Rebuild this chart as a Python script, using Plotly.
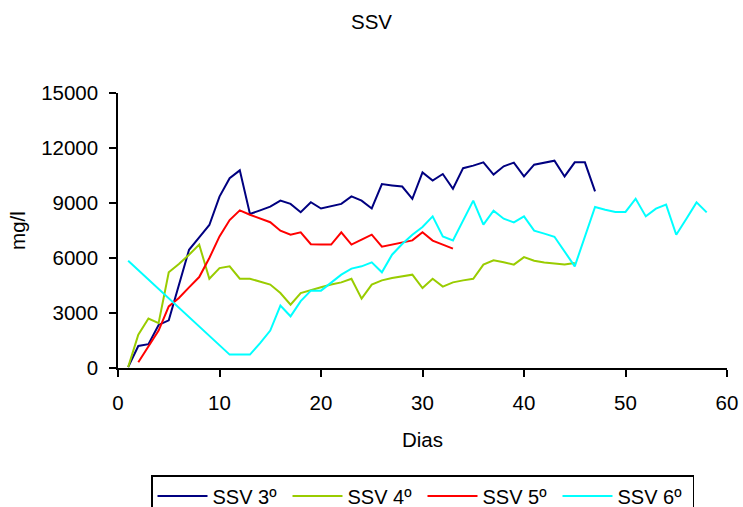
import plotly.graph_objects as go

# SSV (mg/l) per day for the four runs
days_3 = list(range(1, 48))
ssv_3 = [50, 1200, 1300, 2350, 2600, 4550, 6450, 7130, 7800, 9350,
         10350, 10780, 8400, 8600, 8800, 9130, 8950, 8500, 9040, 8700,
         8820, 8950, 9360, 9130, 8700, 10030, 9960, 9900, 9230, 10670,
         10220, 10580, 9780, 10900, 11040, 11220, 10550, 11000, 11200, 10450,
         11090, 11180, 11310, 10450, 11220, 11220, 9630]

days_4 = list(range(1, 46))
ssv_4 = [50, 1820, 2700, 2450, 5220, 5670, 6180, 6730, 4870, 5450,
         5550, 4870, 4870, 4730, 4550, 4090, 3450, 4090, 4260, 4400,
         4550, 4670, 4870, 3780, 4550, 4780, 4910, 5000, 5090, 4360,
         4870, 4440, 4670, 4780, 4870, 5640, 5870, 5770, 5640, 6050,
         5850, 5760, 5690, 5640, 5730]

days_5 = list(range(2, 34))
ssv_5 = [310, 1180, 2040, 3360, 3820, 4400, 4960, 6000, 7180, 8070,
         8600, 8360, 8150, 7950, 7490, 7270, 7400, 6750, 6730, 6730,
         7400, 6730, 7000, 7270, 6620, 6730, 6820, 6960, 7400, 6950,
         6730, 6510]

days_6 = [1, 11, 12, 13, 14, 15, 16, 17, 18, 19, 20, 21, 22, 23, 24, 25,
          26, 27, 28, 29, 30, 31, 32, 33, 34, 35, 36, 37, 38, 39, 40, 41,
          42, 43, 45, 47, 48, 49, 50, 51, 52, 53, 54, 55, 56, 57, 58]
ssv_6 = [5850, 730, 730, 730, 1360, 2040, 3400, 2820, 3650, 4220, 4220, 4640,
         5090, 5420, 5545, 5760, 5220, 6180, 6760, 7270, 7690, 8270, 7180,
         6960, 8035, 9130, 7820, 8580, 8145, 7945, 8270, 7490, 7330, 7160,
         5545, 8780, 8635, 8510, 8510, 9235, 8270, 8690, 8910, 7270, 8145,
         9035, 8490]

series = [
    ("SSV 3º", days_3, ssv_3, "#000080"),
    ("SSV 4º", days_4, ssv_4, "#99CC00"),
    ("SSV 5º", days_5, ssv_5, "#FF0000"),
    ("SSV 6º", days_6, ssv_6, "#00FFFF"),
]

FONT = "Liberation Sans, Arial, sans-serif"
W, H = 743, 507
FS = 20.5

fig = go.Figure()
for name, x, y, color in series:
    fig.add_trace(go.Scatter(x=x, y=y, name=name, mode="lines",
                             line=dict(color=color, width=2)))

axis_common = dict(showgrid=False, zeroline=False, showline=True,
                   linecolor="black", linewidth=1.5, ticks="outside",
                   ticklen=7, tickwidth=1.5, tickcolor="black",
                   tickformat="d", automargin=False,
                   tickfont=dict(size=FS, color="black"))

fig.update_layout(
    width=W, height=H,
    paper_bgcolor="white", plot_bgcolor="white",
    font=dict(family=FONT, size=20, color="black"),
    margin=dict(l=118, r=16, t=93, b=139),
    title=dict(text="SSV", x=0.5, xref="container", xanchor="center",
               y=1 - 22 / H, yref="container", yanchor="middle",
               font=dict(size=FS)),
    xaxis=dict(range=[0, 60], dtick=10, tick0=0, ticklabelstandoff=9,
               title=dict(text="Dias", standoff=19, font=dict(size=FS)),
               **axis_common),
    yaxis=dict(range=[0, 15000], dtick=3000, tick0=0, ticklabelstandoff=7,
               title=dict(text="mg/l", standoff=10, font=dict(size=FS)),
               **axis_common),
    legend=dict(orientation="h", x=0.5, xanchor="center", xref="paper",
                y=1 - 475 / H, yref="container", yanchor="top",
                bordercolor="black", borderwidth=1.5, font=dict(size=20),
                itemwidth=50, entrywidth=70, entrywidthmode="pixels"),
    showlegend=True,
)

fig.write_html("out.html")
